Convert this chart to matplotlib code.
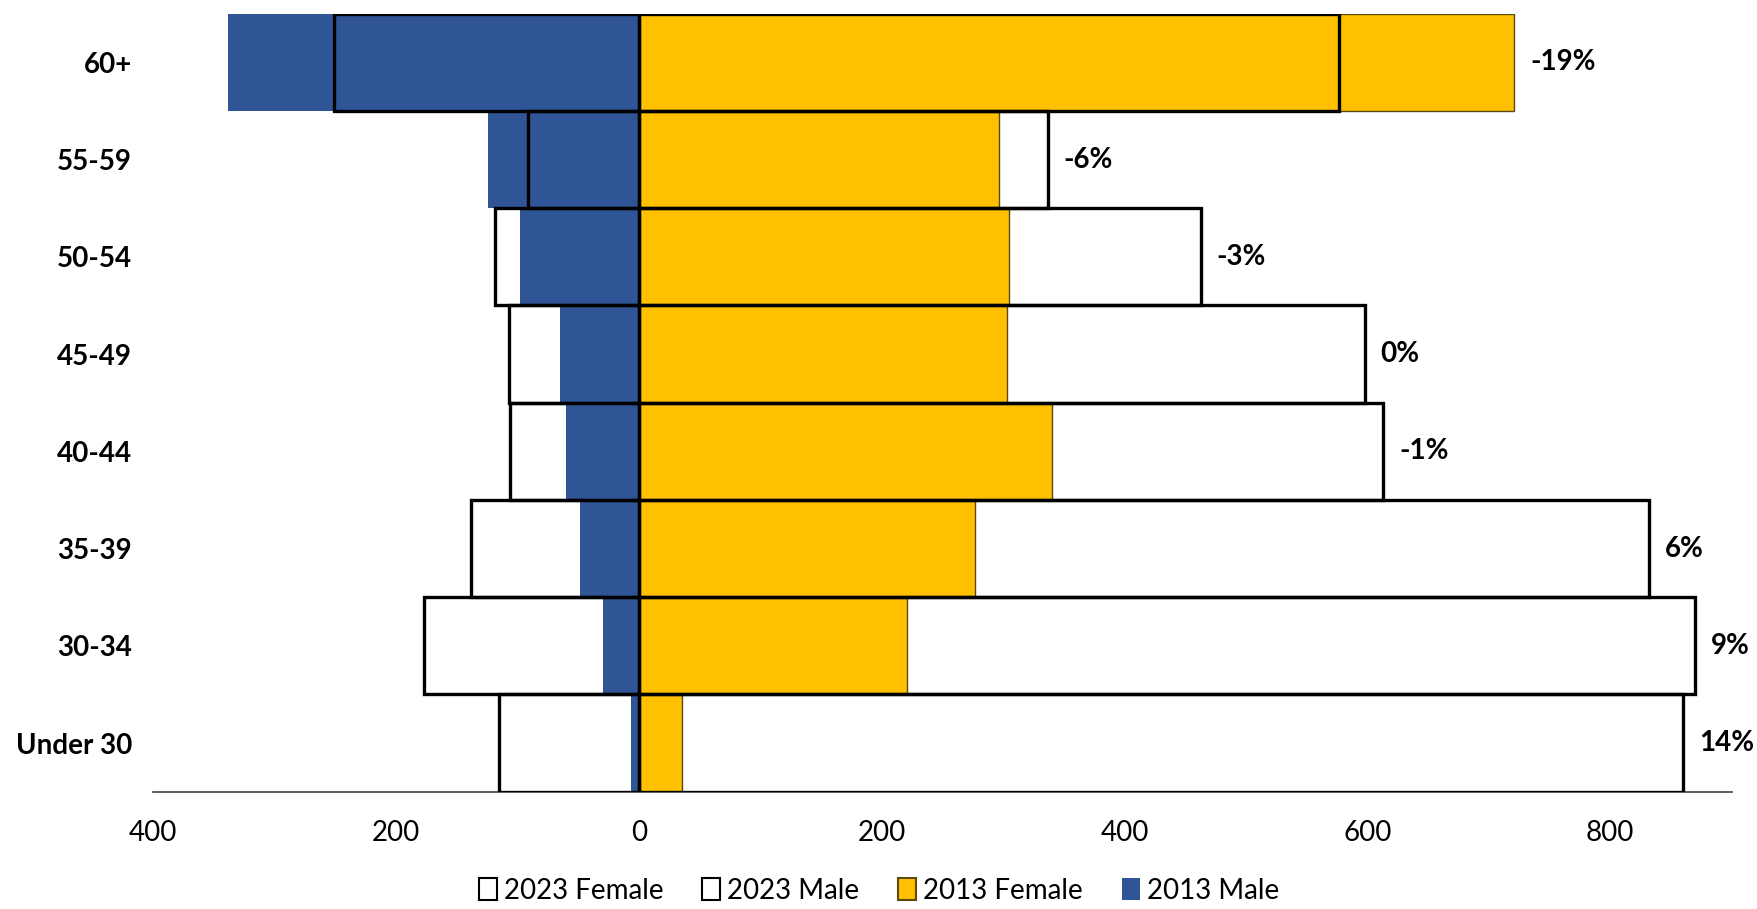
import numpy as np
import matplotlib.pyplot as plt

plt.rcParams['font.family'] = ['Lato', 'DejaVu Sans']

# age groups, top to bottom
groups = ['60+', '55-59', '50-54', '45-49', '40-44', '35-39', '30-34', 'Under 30']
male_2013 = [338, 124, 98, 65, 60, 48, 29, 6]
female_2013 = [721, 297, 305, 303, 340, 277, 221, 36]
male_2023 = [251, 91, 118, 107, 106, 138, 177, 115]
female_2023 = [577, 337, 463, 598, 613, 832, 870, 860]
change = ['-19%', '-6%', '-3%', '0%', '-1%', '6%', '9%', '14%']

blue = '#2F5597'
gold = '#FFC000'

fig = plt.figure(figsize=(17.58, 9.09), dpi=100)
ax = fig.add_axes([0.087, 0.129, 0.898, 0.856])

y = np.arange(len(groups))[::-1]

ax.barh(y, -np.array(male_2013), height=1.0, color=blue, lw=0,
        label='2013 Male', zorder=2)
ax.barh(y, female_2013, height=1.0, color=gold, edgecolor='#5a4a10', lw=1.0,
        label='2013 Female', zorder=2)
ax.barh(y, -np.array(male_2023), height=1.0, facecolor='none', edgecolor='black',
        lw=2.4, label='2023 Male', zorder=3)
ax.barh(y, female_2023, height=1.0, facecolor='none', edgecolor='black',
        lw=2.4, label='2023 Female', zorder=3)

for yi, f13, f23, txt in zip(y, female_2013, female_2023, change):
    ax.text(max(f13, f23) + 13, yi, txt, va='center', ha='left',
            fontsize=20, fontweight='bold')

ax.set_xlim(-400, 900)
ax.set_ylim(-0.5, len(groups) - 0.5)
ax.set_xticks([-400, -200, 0, 200, 400, 600, 800])
ax.set_xticklabels(['400', '200', '0', '200', '400', '600', '800'], fontsize=20)
ax.set_yticks(y)
ax.set_yticklabels(groups, fontsize=20, fontweight='bold')
ax.tick_params(axis='both', length=0)
ax.tick_params(axis='x', pad=20)
ax.tick_params(axis='y', pad=15)
for s in ['top', 'right', 'left']:
    ax.spines[s].set_visible(False)
ax.spines['bottom'].set_color('#404040')
ax.spines['bottom'].set_linewidth(1.2)

handles, labels = ax.get_legend_handles_labels()
order = [3, 2, 1, 0]
leg = fig.legend([handles[i] for i in order], [labels[i] for i in order],
                 loc='lower center', ncol=4, frameon=False, fontsize=20,
                 bbox_to_anchor=(0.5, -0.022), handlelength=0.65, handleheight=0.85,
                 handletextpad=0.25, columnspacing=1.4)
for h in leg.legend_handles:
    h.set_linewidth(1.5)

fig.savefig('out.png', dpi=100)
